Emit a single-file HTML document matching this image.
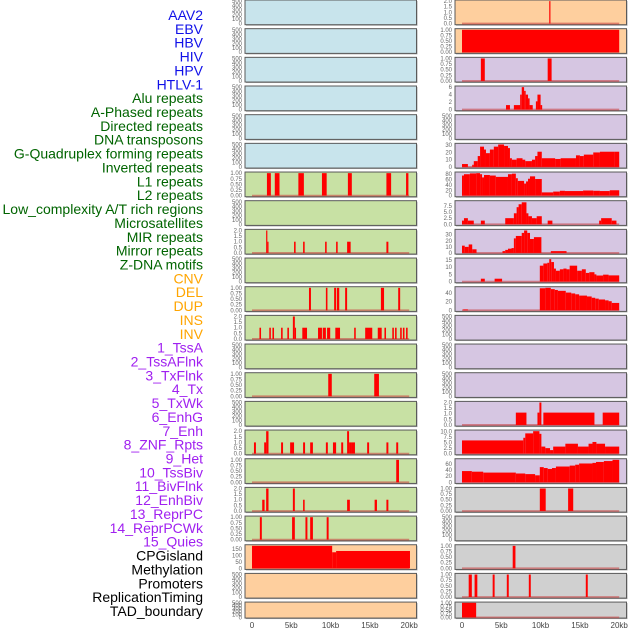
<!DOCTYPE html>
<html><head><meta charset="utf-8"><style>
html,body{margin:0;padding:0;background:#fff;}
svg{display:block;font-family:"Liberation Sans",sans-serif;}
</style></head><body>
<svg id="chart" width="630" height="630" viewBox="0 0 630 630" xmlns="http://www.w3.org/2000/svg"></svg>
<script>
const trackLabels = ["AAV2","EBV","HBV","HIV","HPV","HTLV-1","Alu repeats","A-Phased repeats","Directed repeats","DNA transposons","G-Quadruplex forming repeats","Inverted repeats","L1 repeats","L2 repeats","Low_complexity A/T rich regions","Microsatellites","MIR repeats","Mirror repeats","Z-DNA motifs","CNV","DEL","DUP","INS","INV","1_TssA","2_TssAFlnk","3_TxFlnk","4_Tx","5_TxWk","6_EnhG","7_Enh","8_ZNF_Rpts","9_Het","10_TssBiv","11_BivFlnk","12_EnhBiv","13_ReprPC","14_ReprPCWk","15_Quies","CPGisland","Methylation","Promoters","ReplicationTiming","TAD_boundary"];
const labelGroups = [6,13,5,15,5];
const xTickValues = [0,5,10,15,20];
const xTickLabels = ["0","5kb","10kb","15kb","20kb"];

const ticks500 = [0,100,200,300,400,500];
const ticks500Labels = ["0","100","200","300","400","500"];
const ticks1 = [0,0.25,0.5,0.75,1];
const ticks1Labels = ["0.00","0.25","0.50","0.75","1.00"];
const ticks2 = [0,0.5,1,1.5,2];
const ticks2Labels = ["0.0","0.5","1.0","1.5","2.0"];

// left column series [startKb, endKb, value]
const L6 = [[1.9,2.4,1],[2.9,3.5,1],[5.9,6.6,1],[8.9,9.5,1],[12.2,12.7,1],[17.1,17.7,1],[19.6,19.9,1]];
const L8 = [[1.8,1.95,2],[1.95,2.1,1],[5.35,5.55,1],[6.5,6.7,1],[9.3,9.5,1],[10.7,10.9,1],[12.1,12.55,1],[17.1,17.35,1]];
const L10 = [[7.25,7.5,1],[9.4,9.6,1],[10.45,10.7,1],[10.8,11.1,1],[11.85,12.1,1],[16.4,16.8,1],[18.6,18.85,1]];
const L11 = [[0.95,1.15,1],[2.2,2.4,1],[2.6,2.8,1],[3.7,3.9,1],[4.5,4.7,1],[5.2,5.45,2],[5.45,5.6,1],[6.4,7.0,1],[8.4,8.9,1],[9.0,9.4,1],[9.55,9.95,1],[10.6,11.2,1],[13.0,13.2,1],[14.4,15.3,1],[16.0,16.5,1],[16.85,17.05,1],[17.85,18.05,1],[18.2,18.4,1],[18.85,19.05,1],[19.2,19.4,1],[19.6,19.8,1]];
const L13 = [[9.7,10.15,1],[15.55,16.15,1]];
const L15 = [[0.25,0.5,1],[1.55,1.8,1],[1.8,2.1,2],[3.7,3.95,1],[4.85,5.35,1],[6.5,6.75,1],[7.4,7.75,1],[9.4,9.65,1],[10.3,10.7,1],[11.35,11.6,1],[12.1,12.35,2],[12.35,12.6,1],[12.6,13.1,1],[14.65,14.9,1],[17.1,17.35,1],[18.35,18.6,1]];
const L16 = [[18.35,18.7,1]];
const L17 = [[1.3,1.6,1],[1.8,2.1,2],[5.2,5.45,2],[6.5,6.7,1],[12.1,12.45,1],[15.6,15.9,1],[17.1,17.35,1]];
const L18 = [[1.0,1.25,1],[5.1,5.45,1],[6.8,7.05,1],[7.4,7.75,1],[9.5,9.75,1]];
const L19 = [[0,10.2,175],[10.2,10.7,125],[10.7,20.1,135]];

// right column series
const R0 = [[11.1,11.25,2]];
const R1 = [[0,20,1]];
const R2 = [[2.4,2.9,1],[10.9,11.4,1]];
const R3 = [[5.6,6.1,1.2],[6.6,7.4,1.2],[7.4,7.6,4],[7.6,7.9,6],[7.9,8.1,5],[8.1,8.4,4],[8.4,8.6,3],[8.6,9.0,1.2],[9.4,9.6,2.2],[9.6,10.0,4],[10.0,10.2,1.2]];
const R5 = [[0,0.75,4],[1.3,1.5,3],[1.5,2.0,8],[2.0,2.3,15],[2.3,2.8,28],[2.8,3.05,24],[3.05,3.55,19],[3.55,4.05,24],[4.05,4.6,28],[4.6,5.35,31],[5.35,5.85,29],[5.85,6.1,26],[6.1,6.35,12],[6.35,6.95,10],[6.95,7.7,12],[7.7,8.05,10],[8.05,8.9,8],[8.9,9.3,10],[9.3,9.6,15],[9.6,10.15,21],[10.15,11.85,12],[11.85,12.55,11],[12.55,14.5,12],[14.5,15,16],[15,15.5,15],[15.5,16.7,17],[16.7,17.55,20],[17.55,19.45,21],[19.45,20,21]];
const R6 = [[0,0.25,75],[0.25,1.0,80],[1.0,1.8,83],[1.8,2.3,84],[2.3,2.55,80],[2.55,2.8,68],[2.8,3.55,77],[3.55,4.3,75],[4.3,5.85,70],[5.85,6.35,80],[6.35,6.85,82],[6.85,7.1,65],[7.1,7.9,55],[7.9,8.15,45],[8.15,8.4,53],[8.4,8.65,63],[8.65,9.3,72],[9.3,10.15,62],[10.15,11.6,12],[11.6,12.45,15],[12.45,13.1,18],[13.1,15.4,17],[15.4,16.7,19],[16.7,17.55,18],[17.55,18.8,17],[18.8,20,20]];
const R7 = [[0,0.25,1.5],[0.25,0.75,2.5],[0.75,1.5,1.5],[2.4,2.9,1.5],[5.5,6.6,2.5],[6.6,6.95,4.5],[6.95,7.2,7],[7.2,7.6,8.2],[7.6,8.2,9],[8.2,8.45,4.5],[8.45,8.9,3.3],[8.9,9.5,2.5],[9.5,10.15,3.3],[10.9,11.5,1.5],[17.45,17.7,1.5],[17.7,19.05,2.5],[19.05,19.65,1.5]];
const R8 = [[0,0.35,12],[0.35,0.85,10],[0.85,1.3,14],[1.3,1.85,6],[5.15,5.5,3],[5.5,5.85,5],[5.85,6.3,7],[6.3,6.6,8],[6.6,6.85,24],[6.85,7.6,28],[7.6,7.9,33],[7.9,8.3,37],[8.3,8.65,33],[8.65,9.15,23],[9.15,10.1,26],[11.3,13.3,3]];
const R9 = [[2.4,2.9,2],[4.15,5.1,2],[9.9,10.35,11],[10.35,10.85,12.5],[10.85,11.1,13],[11.1,11.35,15.5],[11.35,11.7,13.5],[11.7,11.95,9],[11.95,12.45,7.5],[12.45,12.9,8.5],[12.9,13.3,9],[13.3,13.7,8.5],[13.7,14.65,11],[14.65,15.25,7.5],[15.25,15.75,8.5],[15.75,16.2,6],[16.2,16.85,6.5],[16.85,17.1,5],[17.1,17.95,4.2],[17.95,18.65,4.8],[18.65,20,4.3]];
const R10 = [[0.15,0.75,2],[9.9,10.6,51],[10.6,11.3,52],[11.3,11.8,49],[11.8,12.2,47],[12.2,13.2,45],[13.2,13.9,41],[13.9,14.4,39],[14.4,14.9,37],[14.9,15.9,34],[15.9,16.5,32],[16.5,16.95,29],[16.95,17.4,27],[17.4,18.2,25],[18.2,18.65,23],[18.65,19.05,21],[19.05,20,17]];
const R14 = [[6.85,8.2,1.1],[9.6,9.85,1.1],[9.85,10.1,2],[10.35,16.85,1.1],[17.9,20,1.1]];
const R15 = [[0,7.8,6],[7.8,8.05,7.2],[8.05,9.05,9.2],[9.05,9.85,10.2],[9.85,10.1,9],[10.1,10.6,3.2],[10.6,11.2,2.5],[11.2,11.6,1.6],[11.6,13.15,3.2],[13.15,14.75,4.5],[14.75,16.1,3.2],[16.1,16.6,4.5],[16.6,17.1,5.3],[17.1,18.2,4.5],[18.2,20,3.2]];
const R16 = [[0,1.25,37],[1.25,2.7,35],[2.7,6.85,32],[6.85,8.05,29],[8.05,9.3,27],[9.3,9.9,23],[9.9,10.4,50],[10.4,10.9,47],[10.9,11.45,44],[11.45,11.95,47],[11.95,13.7,52],[13.7,14.4,55],[14.4,14.9,58],[14.9,16.6,62],[16.6,17.05,64],[17.05,18.05,67],[18.05,19.15,70],[19.15,20,74]];
const R17 = [[9.9,10.65,1],[13.5,14.15,1]];
const R19 = [[6.45,6.8,1]];
const R20 = [[0.85,1.25,1],[1.6,1.95,1],[3.9,4.15,1],[5.7,5.95,1],[8.5,8.75,1],[15.75,16.0,1]];
const R21 = [[0,1.8,1]];

const C_BLUE="#c8e4ec", C_GREEN="#c8e1a4", C_ORANGE="#fecf9e", C_LAV="#d6c6e2", C_GRAY="#d0d0d0";
function P(bg, data, ticks, labels, top){ return {bg, data, ticks, labels, top}; }
const leftPanels = [
 P(C_BLUE,null,ticks500,ticks500Labels,500),P(C_BLUE,null,ticks500,ticks500Labels,500),P(C_BLUE,null,ticks500,ticks500Labels,500),
 P(C_BLUE,null,ticks500,ticks500Labels,500),P(C_BLUE,null,ticks500,ticks500Labels,500),P(C_BLUE,null,ticks500,ticks500Labels,500),
 P(C_GREEN,L6,ticks1,ticks1Labels,1),P(C_GREEN,null,ticks500,ticks500Labels,500),P(C_GREEN,L8,ticks2,ticks2Labels,2),
 P(C_GREEN,null,ticks500,ticks500Labels,500),P(C_GREEN,L10,ticks1,ticks1Labels,1),P(C_GREEN,L11,ticks2,ticks2Labels,2),
 P(C_GREEN,null,ticks500,ticks500Labels,500),P(C_GREEN,L13,ticks1,ticks1Labels,1),P(C_GREEN,null,ticks500,ticks500Labels,500),
 P(C_GREEN,L15,ticks2,ticks2Labels,2),P(C_GREEN,L16,ticks1,ticks1Labels,1),P(C_GREEN,L17,ticks2,ticks2Labels,2),
 P(C_GREEN,L18,ticks1,ticks1Labels,1),P(C_ORANGE,L19,[0,50,100,150],["0","50","100","150"],175),
 P(C_ORANGE,null,ticks500,ticks500Labels,500),P(C_ORANGE,null,ticks500,ticks500Labels,500)
];
const rightPanels = [
 P(C_ORANGE,R0,ticks2,ticks2Labels,2),P(C_ORANGE,R1,ticks1,ticks1Labels,1),P(C_LAV,R2,ticks1,ticks1Labels,1),
 P(C_LAV,R3,[0,2,4,6],["0","2","4","6"],6),P(C_LAV,null,ticks500,ticks500Labels,500),
 P(C_LAV,R5,[0,10,20,30],["0","10","20","30"],31),P(C_LAV,R6,[0,20,40,60,80],["0","20","40","60","80"],84),
 P(C_LAV,R7,[0,2.5,5,7.5],["0.0","2.5","5.0","7.5"],9.2),P(C_LAV,R8,[0,10,20,30],["0","10","20","30"],37),
 P(C_LAV,R9,[0,5,10,15],["0","5","10","15"],15.5),P(C_LAV,R10,[0,20,40],["0","20","40"],52),
 P(C_LAV,null,ticks500,ticks500Labels,500),P(C_LAV,null,ticks500,ticks500Labels,500),P(C_LAV,null,ticks500,ticks500Labels,500),
 P(C_LAV,R14,ticks2,ticks2Labels,2),P(C_LAV,R15,[0,2.5,5,7.5,10],["0.0","2.5","5.0","7.5","10.0"],10.2),
 P(C_LAV,R16,[0,20,40,60],["0","20","40","60"],74),P(C_GRAY,R17,ticks1,ticks1Labels,1),
 P(C_GRAY,null,ticks500,ticks500Labels,500),P(C_GRAY,R19,ticks1,ticks1Labels,1),
 P(C_GRAY,R20,ticks1,ticks1Labels,1),P(C_GRAY,R21,ticks1,ticks1Labels,1)
];

const NS="http://www.w3.org/2000/svg";
const svg=document.getElementById('chart');
function mk(tag,attrs,parent){const e=document.createElementNS(NS,tag);for(const k in attrs)e.setAttribute(k,attrs[k]);(parent||svg).appendChild(e);return e;}

const groupColors=["#1010e8","#006400","#ffa500","#a020f0","#000000"];
let li=0;
labelGroups.forEach((n,g)=>{for(let j=0;j<n;j++){
  const t=mk('text',{x:203,y:15+li*13.86+5,'text-anchor':'end','font-size':14,fill:groupColors[g]});
  
  
  t.textContent=trackLabels[li]; li++;
}});

const ROW_STEP=28.67, ROW_H=24.7, LAST_H=16, PW=171.5, PPK=7.86;
function drawPanel(p,i,left,col){
  const top=ROW_STEP*i, h=(i===21?LAST_H:ROW_H);
  const g=mk('g',{});
  
  
  mk('rect',{x:left+1,y:top+1,width:PW,height:h,fill:'#a8a8a8'},g);
  mk('rect',{x:left,y:top,width:PW,height:h,fill:p.bg,stroke:'#5a5a5a','stroke-width':1},g);
  const ymin=-0.05*p.top, ymax=p.top*1.05;
  const yS=v=>top+h-(v-ymin)/(ymax-ymin)*h;
  const xS=k=>left+7+k*PPK;
  p.ticks.forEach((tv,k)=>{
    const t=mk('text',{x:left-3,y:yS(tv)+2,'text-anchor':'end','font-size':6,fill:'#666'},g);
    
    
    t.textContent=p.labels[k];
  });
  if(p.data){
    mk('line',{x1:xS(0),x2:xS(20),y1:yS(0),y2:yS(0),stroke:'rgba(200,60,60,0.55)','stroke-width':1.8},g);
    p.data.forEach(d=>{
      const v=Math.min(d[2],ymax);
      const r=mk('rect',{x:xS(d[0]),y:yS(v),width:Math.max(1.2,xS(d[1])-xS(d[0])),height:yS(0)-yS(v),fill:'#ff0000'},g);
      
      
    });
  }
}
leftPanels.forEach((p,i)=>drawPanel(p,i,245,'left'));
rightPanels.forEach((p,i)=>drawPanel(p,i,455,'right'));

[252,462].forEach(x0=>{
  xTickValues.forEach((v,k)=>{
    const t=mk('text',{x:x0+v*PPK,y:628,'text-anchor':'middle','font-size':8,fill:'#444'});
    
    
    t.textContent=xTickLabels[k];
  });
});
</script>
</body></html>
